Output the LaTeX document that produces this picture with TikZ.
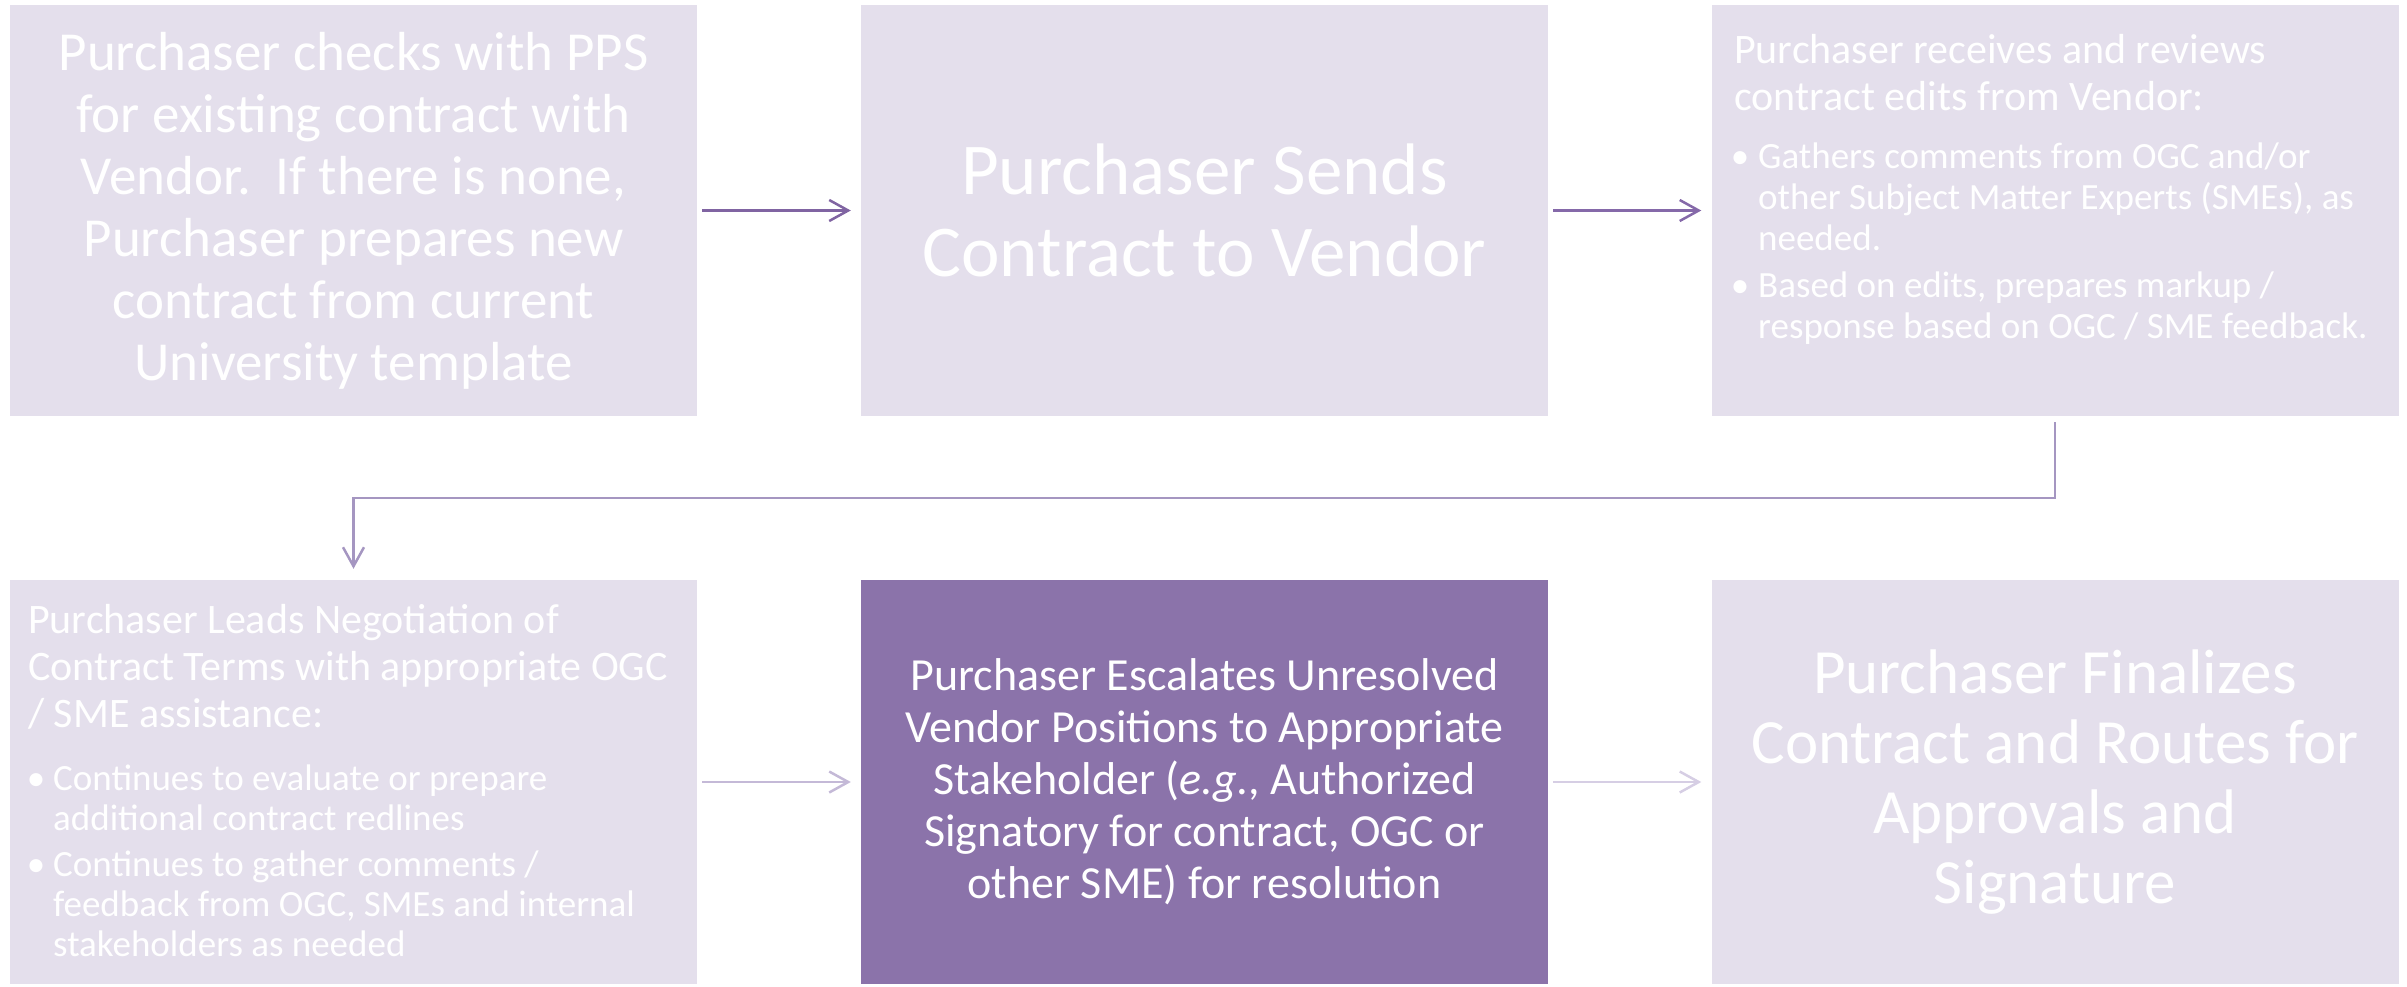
\documentclass[tikz,border=0pt]{standalone}
\usepackage{fontspec}
\setmainfont{Carlito}
\usetikzlibrary{arrows.meta}
\definecolor{boxlight}{HTML}{E4DFEC}
\definecolor{boxdark}{HTML}{8B73AA}
\definecolor{arrA}{HTML}{8064A2}
\definecolor{arrB}{HTML}{8569A9}
\definecolor{arrC}{HTML}{A596C1}
\definecolor{arrD}{HTML}{C4B9D7}
\definecolor{arrE}{HTML}{D6CEE4}
\begin{document}
\begin{tikzpicture}[x=1pt,y=-1pt,
  box/.style={rectangle, draw=none, fill=boxlight, inner sep=0pt,
    minimum width=687pt, text=white, align=center},
  toprow/.style={minimum height=411pt},
  botrow/.style={minimum height=404pt},
  txt/.style={inner sep=0pt, text=white, anchor=base west},
  arr/.style={line width=2.5pt, -{Straight Barb[length=19pt,width=21pt]}}
]
\useasboundingbox (0,0) rectangle (2407,986);

\node[box, toprow, font=\fontsize{55}{62}\selectfont] (b1) at (353.5,210.5)
  {Purchaser checks with PPS\\for existing contract with\\Vendor.\ \ If there is none,\\Purchaser prepares new\\contract from current\\University template};
\node[box, toprow, font=\fontsize{73}{82}\selectfont] (b2) at (1204.5,210.5)
  {Purchaser Sends\\Contract to Vendor};
\node[box, toprow] (b3) at (2055,210.5) {};

\node[box, botrow] (b4) at (353.5,782) {};
\node[box, botrow, fill=boxdark, font=\fontsize{46}{52}\selectfont] (b5) at (1204.5,782)
  {Purchaser Escalates Unresolved\\Vendor Positions to Appropriate\\Stakeholder (\textit{e.g.}, Authorized\\Signatory for contract, OGC or\\other SME) for resolution};
\node[box, botrow, font=\fontsize{63}{70}\selectfont] (b6) at (2055,782)
  {Purchaser Finalizes\\Contract and Routes for\\Approvals and\\Signature};

% box 3 text
\node[txt, font=\fontsize{42}{47}\selectfont] (t3h) at (1734,63)
  {\vtop{\hbox{Purchaser receives and reviews}\hbox{contract edits from Vendor:}}};
\node[txt, font=\fontsize{37}{41}\selectfont] (t3a) at (1758,168)
  {\vtop{\hbox{\llap{•\hspace{9pt}}Gathers comments from OGC and/or}\hbox{other Subject Matter Experts (SMEs), as}\hbox{needed.}}};
\node[txt, font=\fontsize{37}{41}\selectfont] (t3b) at (1758,297)
  {\vtop{\hbox{\llap{•\hspace{9pt}}Based on edits, prepares markup /}\hbox{response based on OGC / SME feedback.}}};

% box 4 text
\node[txt, font=\fontsize{42}{47}\selectfont] (t4h) at (28,633)
  {\vtop{\hbox{Purchaser Leads Negotiation of}\hbox{Contract Terms with appropriate OGC}\hbox{/ SME assistance:}}};
\node[txt, font=\fontsize{37}{40}\selectfont] (t4a) at (53,790)
  {\vtop{\hbox{\llap{•\hspace{8pt}}Continues to evaluate or prepare}\hbox{additional contract redlines}}};
\node[txt, font=\fontsize{37}{40}\selectfont] (t4b) at (53,876)
  {\vtop{\hbox{\llap{•\hspace{8pt}}Continues to gather comments /}\hbox{feedback from OGC, SMEs and internal}\hbox{stakeholders as needed}}};

% connectors
\draw[arr, arrA, shorten <=5pt, shorten >=10pt] (b1.east) -- (b2.west);
\draw[arr, arrB, shorten <=5pt, shorten >=10pt] (b2.east) -- (b3.west);
\draw[arr, arrC, shorten <=6pt, shorten >=11pt] (b3.south) -- ++(0,82) -| (b4.north);
\draw[arr, arrD, shorten <=5pt, shorten >=10pt] (b4.east) -- (b5.west);
\draw[arr, arrE, shorten <=5pt, shorten >=10pt] (b5.east) -- (b6.west);
\end{tikzpicture}
\end{document}
